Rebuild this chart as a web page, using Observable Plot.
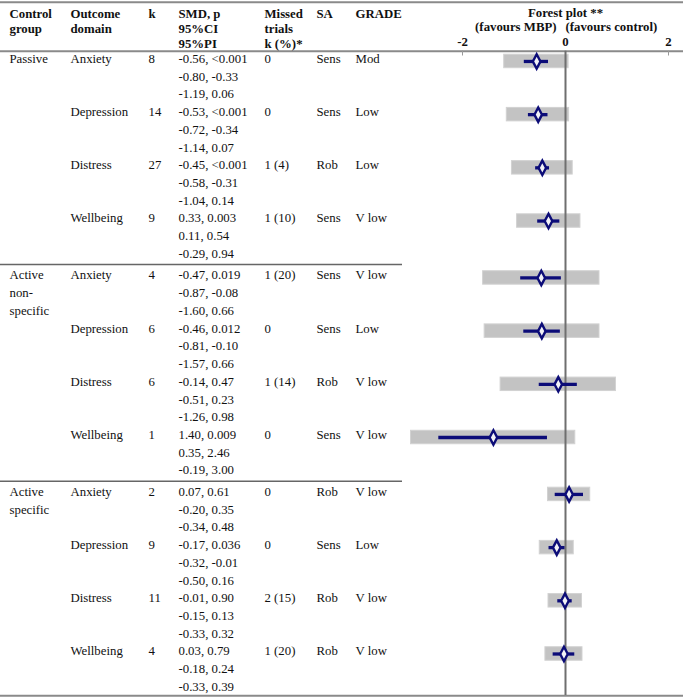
<!DOCTYPE html>
<html>
<head>
<meta charset="utf-8">
<script src="https://cdn.jsdelivr.net/npm/d3@7"></script>
<script src="https://cdn.jsdelivr.net/npm/@observablehq/plot@0.6"></script>
<style>
  html, body { margin: 0; padding: 0; background: #fff; }
</style>
</head>
<body>
<div id="chart"></div>
<script>
// ---------- data ----------
const controlGroups = ["Passive", "Active non-specific", "Active specific"];
const controlGroupLines = [["Passive"], ["Active", "non-", "specific"], ["Active", "specific"]];
const outcomeDomains = ["Anxiety", "Depression", "Distress", "Wellbeing"];
const kValues = [8, 14, 27, 9, 4, 6, 6, 1, 2, 9, 11, 4];
const smdValues = [-0.56, -0.53, -0.45, 0.33, -0.47, -0.46, -0.14, 1.40, 0.07, -0.17, -0.01, 0.03];
const pValues = ["<0.001", "<0.001", "<0.001", "0.003", "0.019", "0.012", "0.47", "0.009", "0.61", "0.036", "0.90", "0.79"];
const ciLow = [-0.80, -0.72, -0.58, 0.11, -0.87, -0.81, -0.51, 0.35, -0.20, -0.32, -0.15, -0.18];
const ciHigh = [-0.33, -0.34, -0.31, 0.54, -0.08, -0.10, 0.23, 2.46, 0.35, -0.01, 0.13, 0.24];
const piLow = [-1.19, -1.14, -1.04, -0.29, -1.60, -1.57, -1.26, -0.19, -0.34, -0.50, -0.33, -0.33];
const piHigh = [0.06, 0.07, 0.14, 0.94, 0.66, 0.66, 0.98, 3.00, 0.48, 0.16, 0.32, 0.39];
const missedTrials = ["0", "0", "1 (4)", "1 (10)", "1 (20)", "0", "1 (14)", "0", "0", "0", "2 (15)", "1 (20)"];
const saValues = ["Sens", "Sens", "Rob", "Sens", "Sens", "Sens", "Rob", "Sens", "Rob", "Sens", "Rob", "Rob"];
const gradeValues = ["Mod", "Low", "Low", "V low", "V low", "Low", "V low", "V low", "V low", "Low", "V low", "V low"];
const headerLabels = ["Control\ngroup", "Outcome\ndomain", "k", "SMD, p\n95%CI\n95%PI", "Missed\ntrials\nk (%)*", "SA", "GRADE"];
const xTicks = [-2, 0, 2];

// ---------- layout ----------
const W = 683, H = 697;
const Y0 = 58.3, LINE = 17.73, GAP = 0.21;           // first text line centre, line step, section gap (lines)
const py = px => (px - Y0) / LINE;                   // pixel -> y-scale units
const colX = [9, 70, 148, 178, 264, 316, 355];       // text columns (px)
const fmt = v => v.toFixed(2);

const rows = smdValues.map((smd, i) => {
  const s = Math.floor(i / 4), r = i % 4;
  const v = s * 12 + r * 3 + s * GAP;
  const domain = outcomeDomains[r];
  const sign = domain === "Wellbeing" ? -1 : 1;      // wellbeing plotted reversed (higher favours MBP)
  return {
    i, s, v, domain,
    est: sign * smd,
    ci1: Math.min(sign * ciLow[i], sign * ciHigh[i]), ci2: Math.max(sign * ciLow[i], sign * ciHigh[i]),
    pi1: Math.min(sign * piLow[i], sign * piHigh[i]), pi2: Math.max(sign * piLow[i], sign * piHigh[i])
  };
});

// text cells per column
const cells = [];
controlGroupLines.forEach((lines, s) => lines.forEach((t, l) => cells.push({col: 0, v: s * 12 + l + s * GAP, text: t})));
rows.forEach(d => {
  const i = d.i;
  cells.push({col: 1, v: d.v, text: d.domain});
  cells.push({col: 2, v: d.v, text: String(kValues[i])});
  cells.push({col: 3, v: d.v, text: `${fmt(smdValues[i])}, ${pValues[i]}`});
  cells.push({col: 3, v: d.v + 1, text: `${fmt(ciLow[i])}, ${fmt(ciHigh[i])}`});
  cells.push({col: 3, v: d.v + 2, text: `${fmt(piLow[i])}, ${fmt(piHigh[i])}`});
  cells.push({col: 4, v: d.v, text: missedTrials[i]});
  cells.push({col: 5, v: d.v, text: saValues[i]});
  cells.push({col: 6, v: d.v, text: gradeValues[i]});
});

const navy = "#0c0c78";
const tallDiamond = {
  draw(ctx) {
    ctx.moveTo(0, -7.2); ctx.lineTo(3.8, 0); ctx.lineTo(0, 7.2); ctx.lineTo(-3.8, 0); ctx.closePath();
  }
};

const xScale = {domain: [-2, 2], range: [462, 668]};
const xInv = px => -2 + (px - 462) / (668 - 462) * 4;
const FOFF = 0.15; // forest marks slightly below first text line

const chart = Plot.plot({
  width: W, height: H,
  marginTop: 0, marginBottom: 0, marginLeft: 0, marginRight: 0,
  x: {...xScale, axis: null},
  y: {domain: [0, 1], range: [Y0, Y0 + LINE], axis: null},
  style: {fontFamily: "'Liberation Serif', serif", fontSize: "12.8px", color: "#111", background: "#fff"},
  marks: [
    // table rules
    Plot.ruleY([py(1.7)], {x1: xInv(0), x2: xInv(W), stroke: "#8a8a8a", strokeWidth: 2}),
    Plot.ruleY([py(50.7)], {x1: xInv(0), x2: xInv(W), stroke: "#8a8a8a", strokeWidth: 2}),
    Plot.ruleY([py(264), py(480.7)], {x1: xInv(0), x2: xInv(402), stroke: "#666", strokeWidth: 1.5}),
    Plot.ruleY([py(695.3)], {x1: xInv(0), x2: xInv(W), stroke: "#8a8a8a", strokeWidth: 2}),
    // headers
    ...headerLabels.map((t, c) => Plot.text([t], {
      text: d => d, frameAnchor: "top-left", dx: colX[c], dy: 7.6,
      textAnchor: "start", lineAnchor: "top", lineHeight: 1.14, fontWeight: "bold"
    })),
    Plot.text(["Forest plot **"], {text: d => d, x: 0, y: py(12.7), textAnchor: "middle", fontWeight: "bold"}),
    Plot.text(["(favours MBP)"], {text: d => d, x: 0, y: py(26.2), dx: -9, textAnchor: "end", fontWeight: "bold"}),
    Plot.text(["(favours control)"], {text: d => d, x: 0, y: py(26.2), textAnchor: "start", fontWeight: "bold"}),
    // forest axis
    Plot.ruleX(xTicks, {y1: py(50.7), y2: py(55.5), stroke: "#999", strokeWidth: 1}),
    Plot.text(xTicks, {x: d => d, y: py(41.5), text: d => String(d), textAnchor: "middle", fontWeight: "bold"}),
    // body text
    ...colX.map((cx, c) => Plot.text(cells.filter(d => d.col === c), {
      y: "v", text: "text", frameAnchor: "left", dx: cx, textAnchor: "start"
    })),
    // forest: prediction interval boxes
    Plot.rect(rows, {x1: "pi1", x2: "pi2", y1: d => d.v + FOFF - 0.38, y2: d => d.v + FOFF + 0.38, fill: "#c3c3c3", stroke: "#d2d2d2", strokeWidth: 1}),
    // zero line
    Plot.ruleX([0], {y1: py(50.7), y2: py(695), stroke: "#6f6f6f", strokeWidth: 2}),
    // confidence intervals
    Plot.ruleY(rows, {y: d => d.v + FOFF, x1: "ci1", x2: "ci2", stroke: navy, strokeWidth: 3.3}),
    // point estimates
    Plot.dot(rows, {x: "est", y: d => d.v + FOFF, symbol: tallDiamond, r: 4, fill: "#f2f2f6", stroke: navy, strokeWidth: 2.4})
  ]
});
document.getElementById("chart").appendChild(chart);
</script>
</body>
</html>
